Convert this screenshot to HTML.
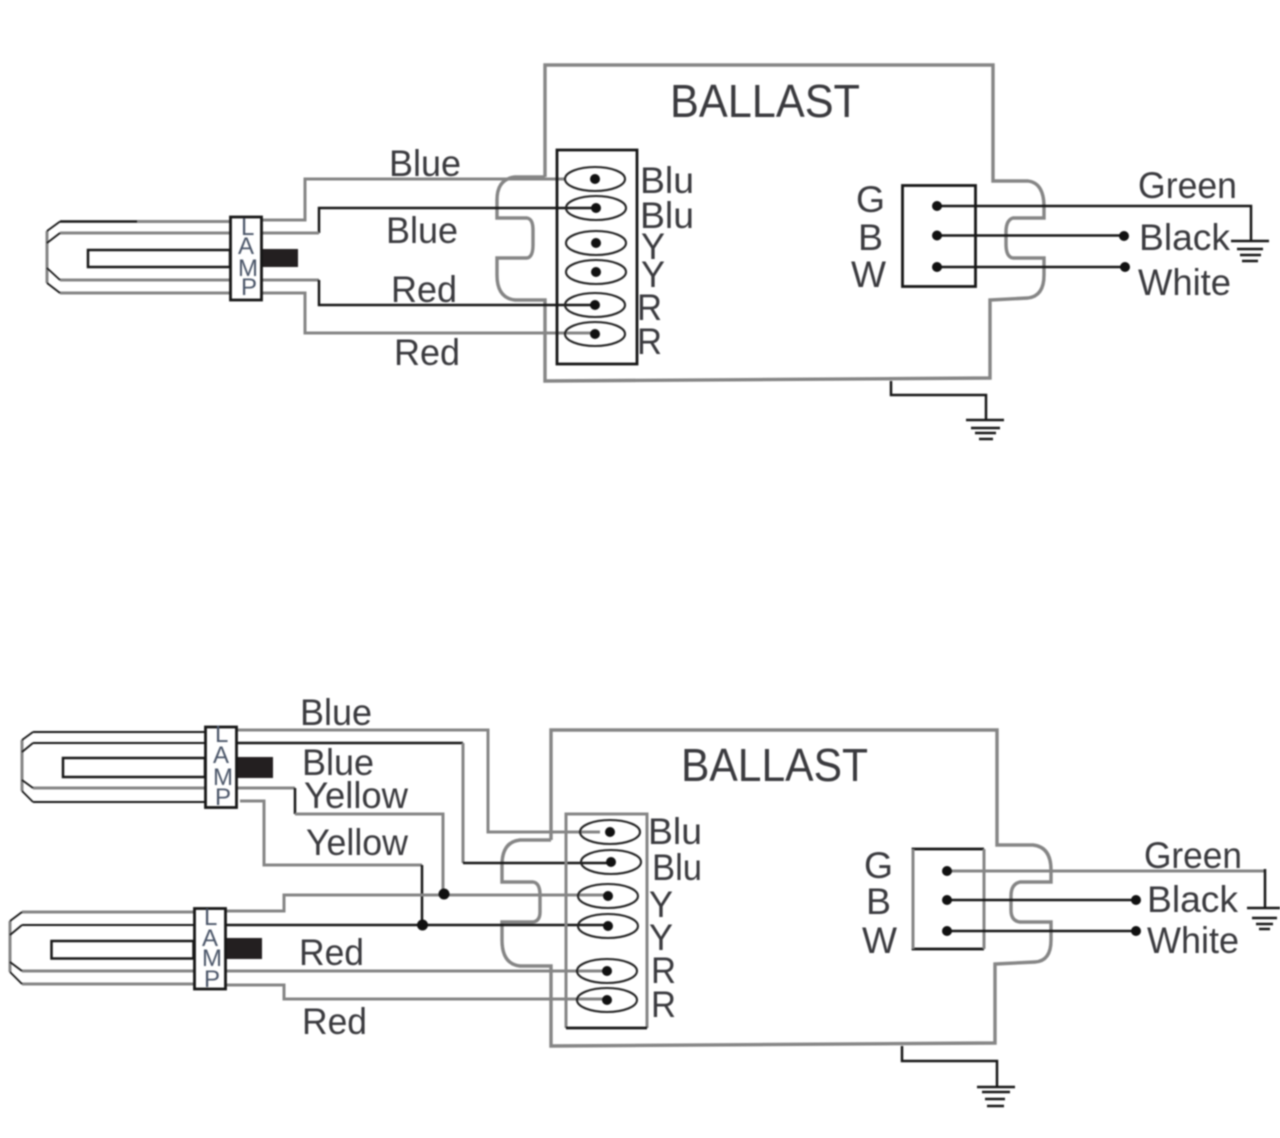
<!DOCTYPE html>
<html><head><meta charset="utf-8"><style>
html,body{margin:0;padding:0;background:#fff}
svg{display:block;filter:blur(.75px)}
text{font-family:"Liberation Sans",sans-serif;fill:#3a3a3e}
.g{fill:none;stroke:#858585;stroke-width:3}
.k{fill:none;stroke:#161616;stroke-width:2.5}
.t{fill:none;stroke:#161616;stroke-width:2.8}
.e{fill:none;stroke:#222;stroke-width:2.1}
.m{fill:#4a5568;font-size:24px}
.d{fill:#111}
</style></head><body>
<svg width="1280" height="1138" viewBox="0 0 1280 1138" xmlns="http://www.w3.org/2000/svg">
<rect width="1280" height="1138" fill="#fff"/>

<!-- TOP DIAGRAM -->
<path class="g" style="stroke-width:3.4" d="M545 177V65H993V181H1028Q1044 183 1044 207V218H1013Q1006 220 1006 232V244Q1006 257 1013 258H1044V275Q1044 296 1028 298L990 300V378L545 381V300H515Q497 298 497 275V258H527Q533 257 533 245V230Q533 219 527 218H497V200Q497 179 515 177H545"/>
<path class="g" d="M262 220H305V179H565"/>
<path class="k" d="M595 208H319V233"/><path class="g" d="M319 233H262"/>
<path class="g" d="M262 280H319"/><path class="k" d="M319 280V305H595"/>
<path class="g" d="M262 293H305V333H595"/>
<path class="k" d="M60 221.500H137"/><path class="g" d="M137 221.500H230M60 233H230M60 280H230M60 293H230M47 231V283"/>
<path class="k" d="M60 221.500L47 231M60 233L47 243M47 268L60 280M47 283L60 293" style="stroke-width:1.8"/>
<rect class="k" x="88" y="250" width="142" height="17"/>
<rect x="262" y="249" width="36" height="18" fill="#231f20"/>
<rect class="t" x="230.500" y="217" width="31" height="83" fill="none"/>
<text class="m" x="241" y="235">L</text><text class="m" x="238" y="254">A</text><text class="m" x="238" y="276" textLength="20" lengthAdjust="spacingAndGlyphs">M</text><text class="m" x="241" y="295">P</text>

<rect class="t" x="557" y="150" width="80" height="214"/>
<g class="e">
<ellipse cx="595" cy="179" rx="30" ry="12"/><ellipse cx="596" cy="208" rx="30" ry="12"/><ellipse cx="596" cy="243" rx="30" ry="12"/><ellipse cx="596" cy="272" rx="30" ry="12"/><ellipse cx="595" cy="305" rx="30" ry="12"/><ellipse cx="595" cy="334" rx="30" ry="12"/>
</g>
<g class="d"><circle cx="595" cy="179" r="5"/><circle cx="596" cy="208" r="5"/><circle cx="596" cy="243" r="5"/><circle cx="596" cy="272" r="5"/><circle cx="595" cy="305" r="5"/><circle cx="595" cy="334" r="5"/></g>

<rect class="t" x="902.500" y="185.500" width="73" height="101"/>
<path class="k" d="M937 206H1251V241M937 235.500H1124M937 267H1125"/>
<g class="d"><circle cx="937" cy="206" r="5"/><circle cx="937" cy="235.500" r="5"/><circle cx="937" cy="267" r="5"/><circle cx="1124" cy="236" r="5"/><circle cx="1125" cy="267" r="5"/></g>
<path class="k" d="M1231 241H1269M1237 249H1263M1240 255H1261M1242 261H1258"/>
<path class="k" d="M891 381V395H986V420M966 420H1004M971 428H1000M975 433H996M979 439H993"/>

<text font-size="46" x="670" y="117" textLength="190" lengthAdjust="spacingAndGlyphs">BALLAST</text>
<g font-size="37">
<text x="389" y="176" textLength="72" lengthAdjust="spacingAndGlyphs">Blue</text>
<text x="386" y="243" textLength="72" lengthAdjust="spacingAndGlyphs">Blue</text>
<text x="391" y="302" textLength="66" lengthAdjust="spacingAndGlyphs">Red</text>
<text x="394" y="365" textLength="66" lengthAdjust="spacingAndGlyphs">Red</text>
<text x="640" y="193" textLength="54" lengthAdjust="spacingAndGlyphs">Blu</text>
<text x="640" y="228" textLength="54" lengthAdjust="spacingAndGlyphs">Blu</text>
<text x="641" y="259" textLength="24" lengthAdjust="spacingAndGlyphs">Y</text><text x="641" y="287" textLength="24" lengthAdjust="spacingAndGlyphs">Y</text>
<text x="637" y="320" textLength="25" lengthAdjust="spacingAndGlyphs">R</text><text x="637" y="354" textLength="25" lengthAdjust="spacingAndGlyphs">R</text>
<text x="856" y="212" textLength="29" lengthAdjust="spacingAndGlyphs">G</text><text x="858" y="250" textLength="25" lengthAdjust="spacingAndGlyphs">B</text><text x="851" y="287" textLength="35" lengthAdjust="spacingAndGlyphs">W</text>
<text x="1138" y="198" textLength="99" lengthAdjust="spacingAndGlyphs">Green</text>
<text x="1139" y="250" textLength="91" lengthAdjust="spacingAndGlyphs">Black</text>
<text x="1138" y="295" textLength="93" lengthAdjust="spacingAndGlyphs">White</text>
</g>

<!-- BOTTOM DIAGRAM -->
<path class="g" style="stroke-width:3.4" d="M551 840V730H997V845H1033Q1051 847 1051 870V882H1020Q1011 884 1011 896V910Q1011 921 1020 922H1051V940Q1051 961 1035 962L995 964V1043L551 1046V966H520Q502 964 502 940V922H533Q540 921 540 912V895Q540 883 533 882H502V865Q502 842 520 840H551"/>
<path class="g" d="M236 730H488V832H600"/>
<path class="k" d="M236 743H463"/><path class="g" d="M463 743V863"/><path class="k" d="M463 863H611"/>
<path class="g" d="M236 788H295"/><path class="k" d="M295 788V814"/><path class="g" d="M295 814H443V895"/>
<path class="g" d="M240 801H264V865H422"/><path class="k" d="M422 865V925"/>
<path class="g" d="M226 911H284V895H608"/>
<path class="k" d="M226 925H608"/>
<path class="g" d="M226 971H607M226 985H284V999H607"/>
<circle class="d" cx="444" cy="894" r="5.500"/><circle class="d" cx="422.500" cy="925" r="5.500"/>

<path class="k" style="stroke-width:2" d="M33 732H205M33 743H205"/><path class="g" d="M33 788H205M22 740V791"/><path class="k" style="stroke-width:2" d="M33 802H205"/>
<path class="k" d="M33 732L22 740M33 743L22 752M22 780L33 788M22 791L33 802" style="stroke-width:1.8"/>
<rect class="k" x="63" y="758" width="142" height="19"/>
<rect x="236" y="757" width="37" height="21" fill="#231f20"/>
<rect class="t" x="205.500" y="727" width="31" height="80.500"/>
<text class="m" x="215" y="742">L</text><text class="m" x="213" y="763">A</text><text class="m" x="213" y="785" textLength="20" lengthAdjust="spacingAndGlyphs">M</text><text class="m" x="215" y="805">P</text>

<path class="g" d="M22 912H194"/><path class="k" style="stroke-width:2" d="M22 925H194"/><path class="g" d="M22 971H194M22 984H194M10 921V972"/>
<path class="k" d="M22 912L10 921M22 925L10 935M10 962L22 971M10 972L22 984" style="stroke-width:1.8"/>
<rect class="k" x="51.500" y="941" width="142" height="17.500"/>
<rect x="226" y="938" width="36" height="21" fill="#231f20"/>
<rect class="t" x="194.500" y="908.500" width="31" height="80.500"/>
<text class="m" x="204" y="925">L</text><text class="m" x="202" y="946">A</text><text class="m" x="202" y="966" textLength="20" lengthAdjust="spacingAndGlyphs">M</text><text class="m" x="204" y="987">P</text>

<path class="g" d="M566 1028V814H647V1028"/><path class="t" d="M566 1028H647"/>
<g class="e">
<ellipse cx="610" cy="832" rx="30" ry="12"/><ellipse cx="611" cy="862" rx="30" ry="12"/><ellipse cx="608" cy="896" rx="30" ry="12"/><ellipse cx="608" cy="926" rx="30" ry="12"/><ellipse cx="607" cy="971" rx="30" ry="12"/><ellipse cx="607" cy="1000" rx="30" ry="12"/>
</g>
<g class="d"><circle cx="610" cy="832" r="5"/><circle cx="611" cy="862" r="5"/><circle cx="608" cy="896" r="5"/><circle cx="608" cy="926" r="5"/><circle cx="607" cy="971" r="5"/><circle cx="607" cy="1000" r="5"/></g>

<path class="t" d="M984 849H913V949H984"/><path class="g" d="M913 849V949M984 849V949"/>
<path class="g" d="M947 871H1265"/>
<path class="k" d="M1265 869V908M947 900H1136M947 931H1136"/>
<g class="d"><circle cx="947" cy="871" r="5"/><circle cx="947" cy="900" r="5"/><circle cx="947" cy="931" r="5"/><circle cx="1136" cy="900" r="5"/><circle cx="1136" cy="931" r="5"/></g>
<path class="k" d="M1247 908H1280M1252 918H1277M1256 924H1273M1259 929H1270"/>
<path class="k" d="M902 1046V1061H997V1087M977 1087H1015M982 1092H1010M985 1099H1005M987 1106H1004"/>

<text font-size="46" x="681" y="781" textLength="187" lengthAdjust="spacingAndGlyphs">BALLAST</text>
<g font-size="37">
<text x="300" y="725" textLength="72" lengthAdjust="spacingAndGlyphs">Blue</text>
<text x="302" y="775" textLength="72" lengthAdjust="spacingAndGlyphs">Blue</text>
<text x="304" y="808" textLength="104" lengthAdjust="spacingAndGlyphs">Yellow</text>
<text x="306" y="855" textLength="102" lengthAdjust="spacingAndGlyphs">Yellow</text>
<text x="299" y="965" textLength="65" lengthAdjust="spacingAndGlyphs">Red</text>
<text x="302" y="1034" textLength="65" lengthAdjust="spacingAndGlyphs">Red</text>
<text x="648" y="844" textLength="54" lengthAdjust="spacingAndGlyphs">Blu</text>
<text x="652" y="880" textLength="50" lengthAdjust="spacingAndGlyphs">Blu</text>
<text x="649" y="917" textLength="24" lengthAdjust="spacingAndGlyphs">Y</text><text x="649" y="950" textLength="24" lengthAdjust="spacingAndGlyphs">Y</text>
<text x="651" y="983" textLength="25" lengthAdjust="spacingAndGlyphs">R</text><text x="651" y="1017" textLength="25" lengthAdjust="spacingAndGlyphs">R</text>
<text x="864" y="878" textLength="29" lengthAdjust="spacingAndGlyphs">G</text><text x="866" y="914" textLength="25" lengthAdjust="spacingAndGlyphs">B</text><text x="862" y="953" textLength="35" lengthAdjust="spacingAndGlyphs">W</text>
<text x="1144" y="868" textLength="98" lengthAdjust="spacingAndGlyphs">Green</text>
<text x="1147" y="912" textLength="91" lengthAdjust="spacingAndGlyphs">Black</text>
<text x="1147" y="953" textLength="92" lengthAdjust="spacingAndGlyphs">White</text>
</g>
</svg>
</body></html>
